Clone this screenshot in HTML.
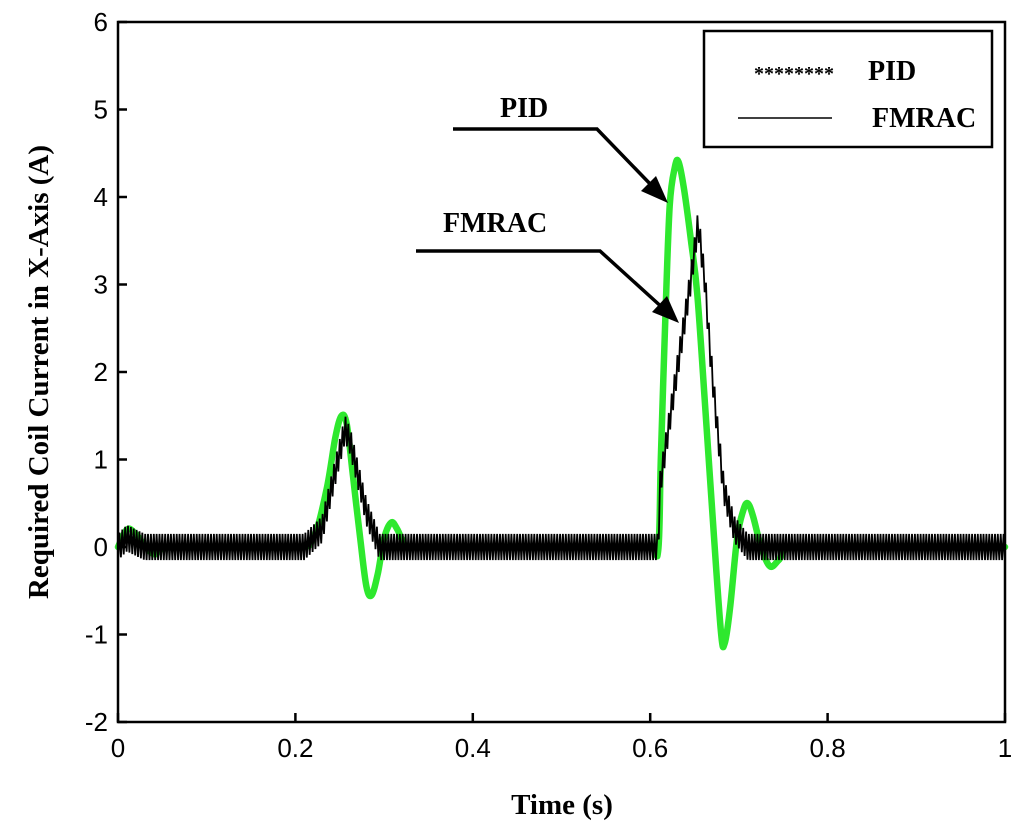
<!DOCTYPE html>
<html><head><meta charset="utf-8"><style>
html,body{margin:0;padding:0;background:#fff;}
svg{display:block;font-family:"Liberation Serif",serif;}
</style></head><body>
<svg id="chart" width="1024" height="839" viewBox="0 0 1024 839" xmlns="http://www.w3.org/2000/svg">
<rect x="0" y="0" width="1024" height="839" fill="#fff"/>
<g id="plot"></g>
<g id="axes"></g>
<text x="562" y="814" font-size="29" font-weight="bold" text-anchor="middle">Time (s)</text>
<text transform="translate(48,372) rotate(-90)" font-size="29" font-weight="bold" text-anchor="middle">Required Coil Current in X-Axis (A)</text>
<g>
<rect x="704" y="31" width="288" height="116" fill="#fff" stroke="#000" stroke-width="2.5"/>
<text x="754" y="80" font-size="20" font-weight="bold">********</text>
<text x="868" y="80" font-size="28" font-weight="bold">PID</text>
<line x1="738" y1="118" x2="832" y2="118" stroke="#000" stroke-width="1.5"/>
<text x="872" y="127" font-size="28" font-weight="bold">FMRAC</text>
</g>
<g>
<text x="500" y="117" font-size="28" font-weight="bold">PID</text>
<polyline points="453,129 597,129 655,189" fill="none" stroke="#000" stroke-width="3.5"/>
<polygon points="668,203 641,191 656,176" fill="#000"/>
<text x="443" y="232" font-size="28" font-weight="bold">FMRAC</text>
<polyline points="416,251 600,251 665,310" fill="none" stroke="#000" stroke-width="3.5"/>
<polygon points="679,323 652,312 667,296" fill="#000"/>
</g>
</svg>
<script>
const xTicks=[0,0.2,0.4,0.6,0.8,1];
const xTickLabels=["0","0.2","0.4","0.6","0.8","1"];
const yTicks=[-2,-1,0,1,2,3,4,5,6];
const yTickLabels=["-2","-1","0","1","2","3","4","5","6"];
const pidT=[0,0.01,0.02,0.04,0.06,0.2,0.22,0.235,0.245,0.252,0.258,0.265,0.273,0.28,0.286,0.293,0.3,0.308,0.315,0.325,0.34,0.6,0.609,0.612,0.617,0.622,0.628,0.632,0.638,0.646,0.653,0.662,0.672,0.68,0.684,0.69,0.698,0.705,0.71,0.716,0.725,0.735,0.745,0.76,1];
const pidV=[0,0.2,0.15,-0.08,0,0,0.1,0.65,1.25,1.5,1.4,0.8,0.1,-0.45,-0.55,-0.3,0.1,0.28,0.2,0,0,0,-0.04,1.0,2.6,3.9,4.35,4.4,4.1,3.5,2.9,1.6,0.1,-1.0,-1.1,-0.7,0.1,0.42,0.5,0.35,0,-0.22,-0.15,0,0];
const fmT=[0,0.01,0.03,0.21,0.23,0.256,0.262,0.28,0.295,0.609,0.611,0.63,0.645,0.654,0.662,0.667,0.675,0.683,0.695,0.71,1];
const fmV=[0,0.1,0,0,0.2,1.35,1.2,0.4,0,0,0.7,2.0,3.0,3.7,3.0,2.29,1.42,0.65,0.2,0,0];
const fmRippleAmp=[0.15];
const fmRippleCycles=[310];
const X=t=>118+t*887, Y=v=>547-v*87.5;
const NS="http://www.w3.org/2000/svg";
function mk(tag,attrs,parent){const e=document.createElementNS(NS,tag);for(const k in attrs)e.setAttribute(k,attrs[k]);parent.appendChild(e);return e;}
function interp(T,V,t){for(let i=1;i<T.length;i++){if(t<=T[i]){const f=(t-T[i-1])/(T[i]-T[i-1]);return V[i-1]+f*(V[i]-V[i-1]);}}return V[V.length-1];}
const plot=document.getElementById('plot'), axes=document.getElementById('axes');
const P=pidT.map((t,i)=>[X(t),Y(pidV[i])]);
const cl=(v,a,b)=>Math.min(Math.max(v,Math.min(a,b)),Math.max(a,b));
let d='M'+P[0][0].toFixed(1)+','+P[0][1].toFixed(1);
for(let i=0;i<P.length-1;i++){const p0=P[Math.max(0,i-1)],p1=P[i],p2=P[i+1],p3=P[Math.min(P.length-1,i+2)];
 const c1=[cl(p1[0]+(p2[0]-p0[0])/6,p1[0],p2[0]),p1[1]+(p2[1]-p0[1])/6],c2=[cl(p2[0]-(p3[0]-p1[0])/6,p1[0],p2[0]),p2[1]-(p3[1]-p1[1])/6];
 d+=' C'+c1[0].toFixed(1)+','+c1[1].toFixed(1)+' '+c2[0].toFixed(1)+','+c2[1].toFixed(1)+' '+p2[0].toFixed(1)+','+p2[1].toFixed(1);}
const g=mk('path',{d:d,fill:'none',stroke:'#2ee82e','stroke-width':6.5,'stroke-linejoin':'round','stroke-linecap':'round'},plot);


let pts=[];const n=fmRippleCycles[0]*2;
for(let i=0;i<=n;i++){const t=i/n;const v=interp(fmT,fmV,t)+(i%2?fmRippleAmp[0]:-fmRippleAmp[0]);pts.push(X(t).toFixed(1)+','+Y(v).toFixed(1));}
const b=mk('polyline',{points:pts.join(' '),fill:'none',stroke:'#000','stroke-width':1.8},plot);


const fr=mk('rect',{x:118,y:22,width:887,height:700,fill:'none',stroke:'#000','stroke-width':2.5},axes);


xTicks.forEach((t,i)=>{
 const l=mk('line',{x1:X(t),x2:X(t),y1:722,y2:713,stroke:'#000','stroke-width':2.5},axes);
 
 
 const tx=mk('text',{x:X(t),y:757,'font-size':26,'text-anchor':'middle','font-family':'Liberation Sans, sans-serif'},axes);
 tx.textContent=xTickLabels[i];
 
 
});
yTicks.forEach((v,i)=>{
 const l=mk('line',{x1:118,x2:127,y1:Y(v),y2:Y(v),stroke:'#000','stroke-width':2.5},axes);
 
 
 const tx=mk('text',{x:108,y:Y(v)+9,'font-size':26,'text-anchor':'end','font-family':'Liberation Sans, sans-serif'},axes);
 tx.textContent=yTickLabels[i];
 
 
});
</script>
</body></html>
